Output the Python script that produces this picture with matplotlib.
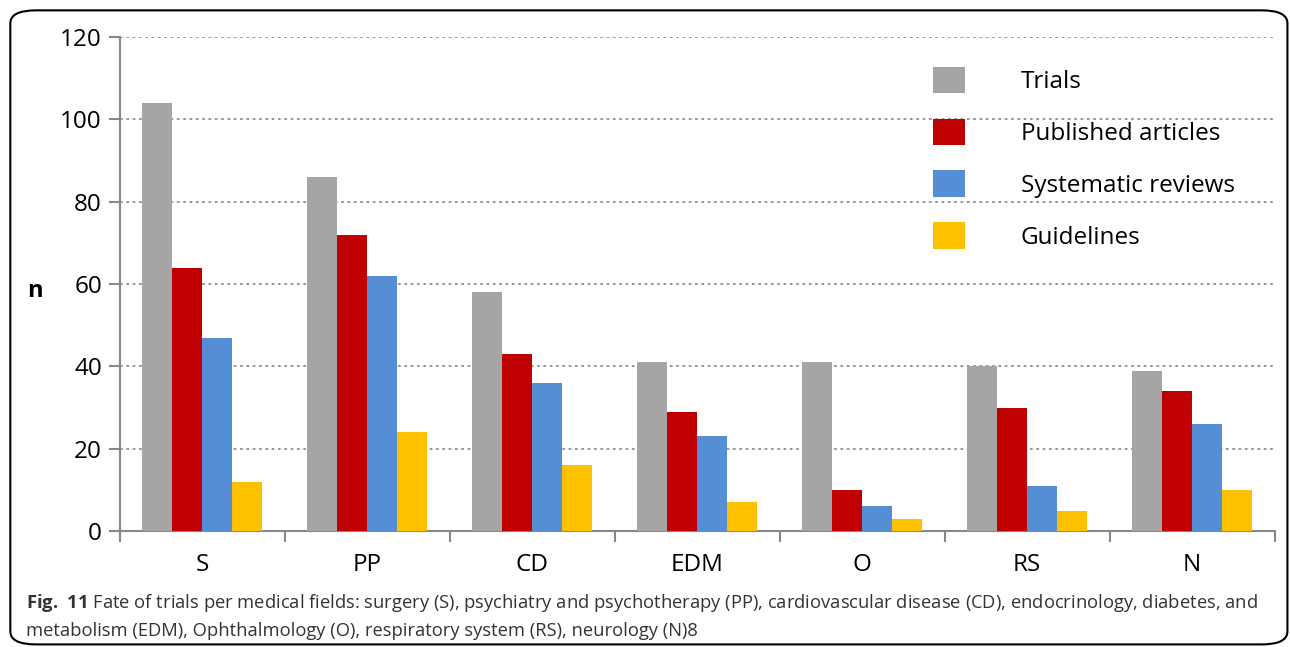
import matplotlib.pyplot as plt
import numpy as np
from matplotlib.patches import FancyBboxPatch, Patch

plt.rcParams['font.family'] = ['Open Sans', 'DejaVu Sans']
plt.rcParams['mathtext.fontset'] = 'custom'
plt.rcParams['mathtext.bf'] = 'Open Sans:bold'
plt.rcParams['mathtext.rm'] = 'Open Sans'

# data
kategorie = ['S', 'PP', 'CD', 'EDM', 'O', 'RS', 'N']
serie = ['Trials', 'Published articles', 'Systematic reviews', 'Guidelines']
trials = [104, 86, 58, 41, 41, 40, 39]
articles = [64, 72, 43, 29, 10, 30, 34]
reviews = [47, 62, 36, 23, 6, 11, 26]
guidelines = [12, 24, 16, 7, 3, 5, 10]
kolory = ['#a5a5a5', '#c00000', '#558ed5', '#ffc000']

fig = plt.figure(figsize=(12.9, 6.47), dpi=100)
ax = fig.add_axes([0.093, 0.179, 0.895, 0.764])

x = np.arange(len(kategorie))
w = 0.182
for i, vals in enumerate([trials, articles, reviews, guidelines]):
    ax.bar(x + (i - 1.5) * w, vals, w, color=kolory[i], label=serie[i], zorder=3)

ax.set_xlim(-0.5, len(kategorie) - 0.5)
ax.set_ylim(0, 120)
ax.set_yticks(range(0, 121, 20))
ax.yaxis.grid(True, linestyle=(0, (1.5, 2)), color='#909090', linewidth=1.3, zorder=0)

# kreski na granicach kategorii, podpisy na srodku
ax.set_xticks(np.arange(-0.5, len(kategorie)), minor=False)
ax.set_xticklabels([])
ax.set_xticks(x, minor=True)
ax.set_xticklabels(kategorie, minor=True, fontsize=17.5)
ax.tick_params(axis='x', which='minor', length=0, pad=16)
ax.tick_params(axis='x', which='major', length=8, width=1.5, color='#888888')
ax.tick_params(axis='y', length=8, width=1.5, color='#888888', labelsize=17.5, pad=5)

for s in ['top', 'right']:
    ax.spines[s].set_visible(False)
for s in ['left', 'bottom']:
    ax.spines[s].set_color('#888888')
    ax.spines[s].set_linewidth(1.5)

fig.text(0.027, 0.55, 'n', fontsize=17, fontweight='bold', ha='center', va='center')

uchwyty = [Patch(facecolor=c) for c in kolory]
ax.legend(uchwyty, serie, loc='upper left', bbox_to_anchor=(0.685, 0.984), frameon=False,
          fontsize=17.5, handlelength=1.32, handleheight=1.32, handletextpad=2.3, labelspacing=1.0)

# podpis
fig.text(0.020, 0.068, r'$\bf{Fig.}$$\bf{\ 11}$ Fate of trials per medical fields: surgery (S), psychiatry and psychotherapy (PP), '
         'cardiovascular disease (CD), endocrinology, diabetes, and', fontsize=13.2, color='#333333', va='center')
fig.text(0.020, 0.025, 'metabolism (EDM), Ophthalmology (O), respiratory system (RS), neurology (N)8',
         fontsize=13.2, color='#333333', va='center')

ramka = FancyBboxPatch((0.008, 0.004), 0.99, 0.98, boxstyle='round,pad=0,rounding_size=0.02',
                       transform=fig.transFigure, fill=False, edgecolor='black', linewidth=1.5)
fig.patches.append(ramka)

fig.savefig('out.png', dpi=100)
